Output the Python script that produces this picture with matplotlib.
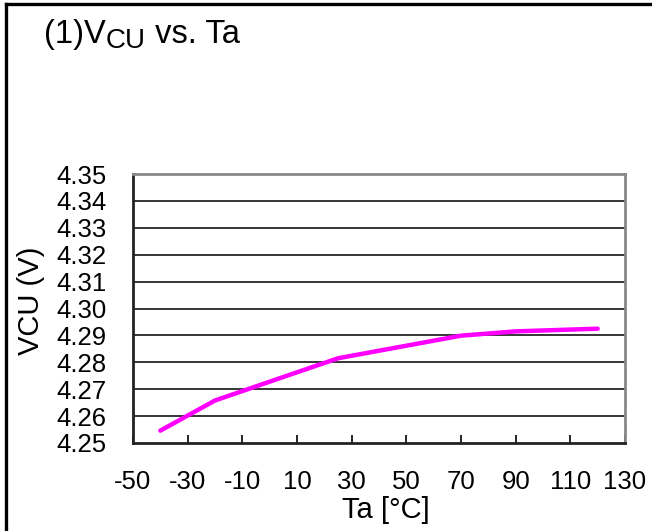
import numpy as np
import matplotlib
matplotlib.use("Agg")
import matplotlib.pyplot as plt
from matplotlib.lines import Line2D

plt.rcParams['font.family'] = ['Liberation Sans', 'DejaVu Sans']

# data
ta = [-40, -20, 0, 25, 70, 90, 120]
vcu = [4.2546, 4.2658, 4.2728, 4.2815, 4.2899, 4.2915, 4.2925]

xticks = list(range(-50, 131, 20))
yticks = [4.25, 4.26, 4.27, 4.28, 4.29, 4.30, 4.31, 4.32, 4.33, 4.34, 4.35]

W, H = 652, 531
fig = plt.figure(figsize=(W / 100, H / 100), dpi=100)
fs = 18.5

ax = fig.add_axes([133 / W, (H - 443) / H, (625 - 133) / W, (443 - 174) / H])
ax.plot(ta, vcu, color='#ff00ff', lw=3.2, solid_capstyle='round', zorder=3)

ax.set_xlim(-50, 130)
ax.set_ylim(4.25, 4.35)
ax.set_xticks(xticks)
ax.set_xticklabels([str(t) for t in xticks])
ax.set_yticks(yticks)
ax.set_yticklabels(['%.2f' % v for v in yticks])
ax.tick_params(axis='x', direction='in', length=6, width=1.2, pad=19.5,
               labelsize=fs, colors='black')
ax.tick_params(axis='y', length=0, pad=19, labelsize=fs)
for v in yticks[1:-1]:
    ax.axhline(v, color='black', lw=1.1, zorder=1)

for s in ['left', 'bottom']:
    ax.spines[s].set_color('#222222')
    ax.spines[s].set_linewidth(2)
for s in ['top', 'right']:
    ax.spines[s].set_color('#888888')
    ax.spines[s].set_linewidth(2)

# axis titles
fig.text(386 / W, 1 - 518 / H, 'Ta [°C]', fontsize=21, ha='center', va='baseline')
fig.text(31 / W, 1 - 301 / H, 'VCU (V)', fontsize=21, rotation=90,
         ha='center', va='center')

# title with subscript built from pieces
r = fig.canvas.get_renderer()
t1 = fig.text(44 / W, 1 - 43 / H, '(1)V', fontsize=23.5, va='baseline')
bb = t1.get_window_extent(r)
t2 = fig.text(bb.x1 / W, 1 - 48 / H, 'CU', fontsize=20, va='baseline')
bb = t2.get_window_extent(r)
fig.text(bb.x1 / W, 1 - 43 / H, ' vs. Ta', fontsize=23.5, va='baseline')

# outer frame (left and top edges)
fig.add_artist(Line2D([5.5 / W, 5.5 / W], [0, 1 - 4 / H], color='black', lw=2.4,
                      transform=fig.transFigure))
fig.add_artist(Line2D([5.5 / W, 1], [1 - 4 / H, 1 - 4 / H], color='black', lw=2.4,
                      transform=fig.transFigure))

fig.savefig('out.png', dpi=100, facecolor='white')
